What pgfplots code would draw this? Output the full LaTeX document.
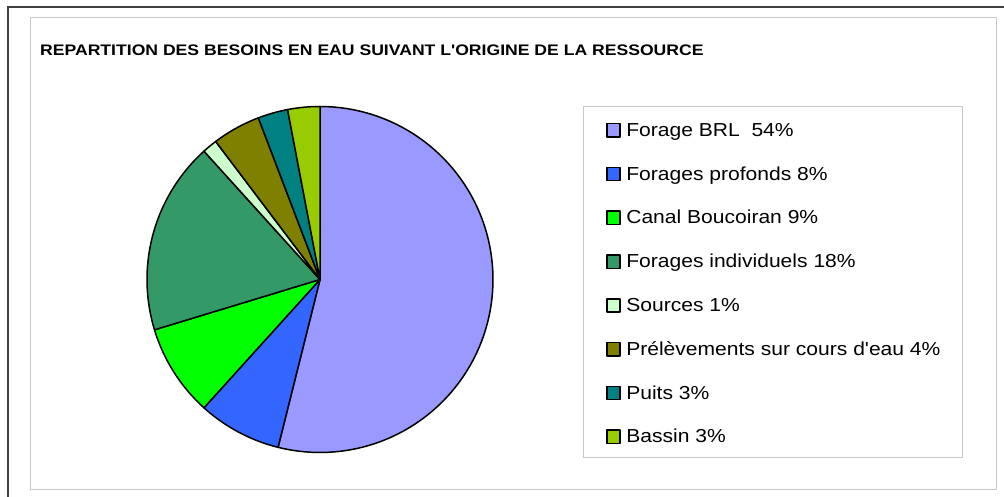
\documentclass[border=0pt]{standalone}
\usepackage{fontspec}
\setmainfont{Liberation Sans}
\newfontfamily\legfont{Liberation Sans}[FakeStretch=1.12]
\newfontfamily\titfont{Liberation Sans}[FakeStretch=1.15]
\usepackage{pgfplots}
\usepackage{pgfplotstable}
\pgfplotsset{compat=1.18}
\definecolor{slice0}{HTML}{9999FF}
\definecolor{slice1}{HTML}{3366FF}
\definecolor{slice2}{HTML}{00FF00}
\definecolor{slice3}{HTML}{339966}
\definecolor{slice4}{HTML}{CCFFCC}
\definecolor{slice5}{HTML}{808000}
\definecolor{slice6}{HTML}{008080}
\definecolor{slice7}{HTML}{99CC00}
\definecolor{outerframe}{HTML}{404040}
\definecolor{innerframe}{HTML}{C8C8C8}
\definecolor{legframe}{HTML}{C8C8C8}

% share of each origin, in percent, clockwise from 12 o'clock
\pgfplotstableread{
share
53.9
7.8
8.6
18.0
1.4
4.5
2.8
3.0
}\piedata

\begin{document}
\begin{tikzpicture}
\useasboundingbox (0pt,0pt) rectangle (1004pt,497pt);
\fill[white] (0pt,0pt) rectangle (1004pt,497pt);
\draw[line width=2pt, outerframe] (8.3pt,-20pt) -- (8.3pt,490.3pt) -- (1030pt,490.3pt);
\draw[line width=1pt, innerframe] (30pt,7pt) rectangle (996pt,479pt);
\node[anchor=base west, inner sep=0pt, font=\titfont\bfseries\fontsize{15.3}{17}\selectfont] at (40pt,441pt) {REPARTITION DES BESOINS EN EAU SUIVANT L'ORIGINE DE LA RESSOURCE};

\def\cum{0}
\pgfplotsforeachungrouped \i in {0,...,7}{%
  \pgfplotstablegetelem{\i}{share}\of\piedata
  \pgfmathsetmacro\sa{90-3.6*\cum}%
  \pgfmathsetmacro\cum{\cum+\pgfplotsretval}%
  \pgfmathsetmacro\ea{90-3.6*\cum}%
  \expandafter\xdef\csname sA\i\endcsname{\sa}%
  \expandafter\xdef\csname eA\i\endcsname{\ea}%
}

\begin{axis}[at={(147pt,44.5pt)}, anchor=south west, scale only axis,
  width=346pt, height=346pt, xmin=-1, xmax=1, ymin=-1, ymax=1,
  hide axis, clip=false,
  legend entries={Forage BRL\ \ 54\%, Forages profonds 8\%, Canal Boucoiran 9\%, Forages individuels 18\%, Sources 1\%, Prélèvements sur cours d'eau 4\%, Puits 3\%, Bassin 3\%},
  legend image code/.code={\draw[#1, line width=1.5pt] (0pt,-8.2pt) rectangle (13.3pt,5.1pt);},
  legend cell align=left,
  legend style={at={(1.2601,1.0014)}, anchor=north west, draw=legframe, line width=1pt,
    inner xsep=22.5pt, inner ysep=5pt, row sep=9.4pt, column sep=5.5pt,
    font=\legfont\fontsize{18.8}{22}\selectfont,
    nodes={inner sep=0pt, text height=24.7pt, text depth=9.7pt}},
]
\pgfplotsinvokeforeach{0,...,7}{
  \addplot[fill=slice#1, draw=black, line width=1.5pt, line join=round,
    domain=\csname eA#1\endcsname:\csname sA#1\endcsname, samples=90, variable=\t]
    ({cos(\t)},{sin(\t)}) -- (axis cs:0,0) -- cycle;
}
\end{axis}
\end{tikzpicture}
\end{document}
